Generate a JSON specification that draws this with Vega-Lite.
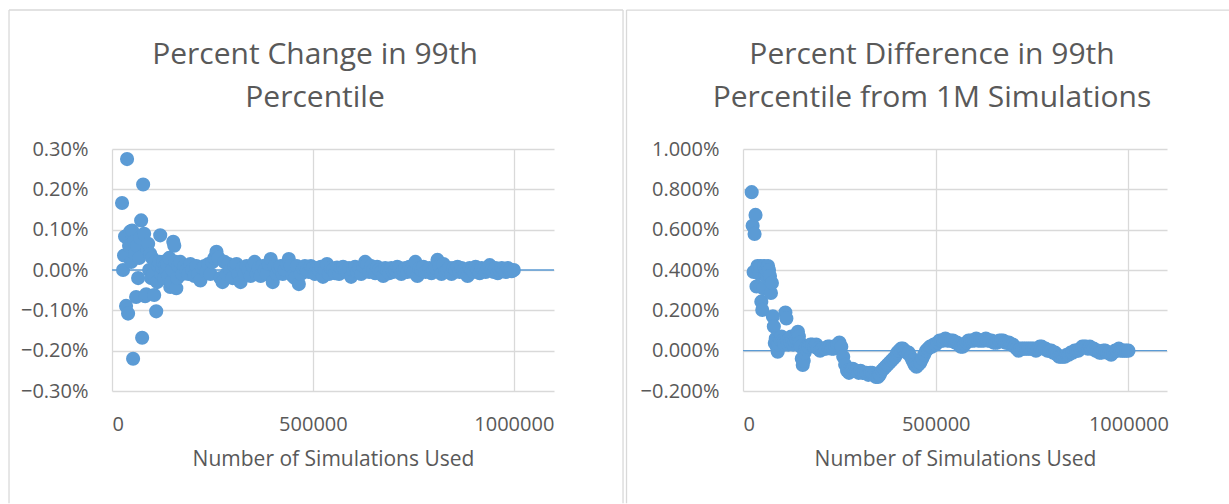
{
"$schema": "https://vega.github.io/schema/vega-lite/v6.json",
"padding": {"left": 8, "top": 9, "right": 0, "bottom": 0},
"background": "white",
"spacing": 1,
"config": {
 "view": {"stroke": null},
 "font": "Open Sans",
 "axis": {"labelFont": "Open Sans", "labelFontSize": 20, "labelColor": "#595959", "titleFont": "Open Sans", "titleFontSize": 21, "titleFontWeight": "normal", "titleColor": "#595959", "ticks": false, "domain": false, "gridColor": "#d9d9d9", "gridWidth": 1.3},
 "title": {"font": "Open Sans", "fontSize": 30, "fontWeight": "normal", "color": "#595959", "lineHeight": 43, "anchor": "middle"}
},
"datasets": {
 "change": [
  {"n":25000,"p":0.166},{"n":27500,"p":0.0},{"n":30000,"p":0.036},{"n":32500,"p":0.083},{"n":35000,"p":-0.089},{"n":37500,"p":0.275},{"n":40000,"p":-0.108},{"n":42500,"p":0.06},{"n":45000,"p":0.095},{"n":47500,"p":0.02},
  {"n":50000,"p":0.098},{"n":52500,"p":-0.22},{"n":55000,"p":0.07},{"n":57500,"p":0.04},{"n":60000,"p":-0.067},{"n":62500,"p":0.06},{"n":65000,"p":-0.02},{"n":67500,"p":0.03},{"n":70000,"p":0.08},{"n":72500,"p":0.123},
  {"n":75000,"p":-0.168},{"n":77500,"p":0.212},{"n":80000,"p":0.09},{"n":82500,"p":-0.065},{"n":85000,"p":-0.06},{"n":87500,"p":0.05},{"n":90000,"p":0.065},{"n":92500,"p":0.0},{"n":95000,"p":0.04},{"n":97500,"p":-0.02},
  {"n":100000,"p":0.03},{"n":102500,"p":-0.01},{"n":105000,"p":-0.062},{"n":107500,"p":0.02},{"n":110000,"p":-0.1025},{"n":112500,"p":-0.03},{"n":115000,"p":0.01},{"n":117500,"p":0.02},{"n":120000,"p":0.086},{"n":122500,"p":-0.01},
  {"n":125000,"p":0.005},{"n":127500,"p":0.02},{"n":130000,"p":-0.02},{"n":132500,"p":0.01},{"n":135000,"p":0.0},{"n":137500,"p":0.015},{"n":140000,"p":-0.015},{"n":142500,"p":0.03},{"n":145000,"p":-0.042},{"n":147500,"p":-0.03},
  {"n":150000,"p":0.0},{"n":152500,"p":0.07},{"n":155000,"p":0.06},{"n":157500,"p":0.02},{"n":160000,"p":-0.045},{"n":162500,"p":-0.02},{"n":165000,"p":0.01},
  {"n":170000,"p":0.02},{"n":175000,"p":-0.01},{"n":180000,"p":0.01},{"n":185000,"p":0.0},{"n":190000,"p":-0.01},{"n":195000,"p":0.015},{"n":200000,"p":0.0},{"n":205000,"p":-0.015},{"n":210000,"p":0.01},{"n":215000,"p":-0.01},
  {"n":220000,"p":-0.026},{"n":225000,"p":0.005},{"n":230000,"p":0.01},{"n":235000,"p":-0.005},{"n":240000,"p":0.015},{"n":245000,"p":-0.01},{"n":250000,"p":0.02},{"n":255000,"p":0.03},{"n":260000,"p":0.045},{"n":265000,"p":0.03},
  {"n":270000,"p":-0.02},{"n":275000,"p":-0.03},{"n":280000,"p":0.02},{"n":285000,"p":-0.01},{"n":290000,"p":0.015},{"n":295000,"p":0.0},{"n":300000,"p":-0.02},{"n":305000,"p":0.01},{"n":310000,"p":0.015},{"n":315000,"p":-0.01},
  {"n":320000,"p":-0.03},{"n":325000,"p":0.005},{"n":330000,"p":-0.01},{"n":335000,"p":0.01},{"n":340000,"p":0.0},{"n":345000,"p":-0.015},{"n":350000,"p":0.01},{"n":355000,"p":0.02},{"n":360000,"p":-0.01},{"n":365000,"p":0.005},
  {"n":370000,"p":-0.015},{"n":375000,"p":0.01},{"n":380000,"p":0.0},{"n":385000,"p":-0.01},{"n":390000,"p":0.015},{"n":395000,"p":0.027},{"n":400000,"p":-0.03},{"n":405000,"p":0.01},{"n":410000,"p":-0.01},{"n":415000,"p":0.005},
  {"n":420000,"p":0.01},{"n":425000,"p":-0.01},{"n":430000,"p":0.0},{"n":435000,"p":0.015},{"n":440000,"p":0.027},{"n":445000,"p":0.01},{"n":450000,"p":-0.015},{"n":455000,"p":-0.02},{"n":460000,"p":0.01},{"n":465000,"p":-0.035},
  {"n":470000,"p":-0.01},{"n":475000,"p":0.005},{"n":480000,"p":0.01},{"n":485000,"p":0.0},{"n":490000,"p":-0.005},{"n":495000,"p":0.01},{"n":500000,"p":0.005},{"n":505000,"p":-0.01},{"n":510000,"p":0.005},{"n":515000,"p":0.0},
  {"n":520000,"p":0.008},{"n":525000,"p":-0.017},{"n":530000,"p":0.0},{"n":535000,"p":0.015},{"n":540000,"p":-0.01},{"n":545000,"p":0.005},{"n":550000,"p":0.0},{"n":555000,"p":-0.008},{"n":560000,"p":0.006},{"n":565000,"p":-0.01},
  {"n":570000,"p":0.005},{"n":575000,"p":0.008},{"n":580000,"p":0.0},{"n":585000,"p":-0.005},{"n":590000,"p":0.005},{"n":595000,"p":-0.017},{"n":600000,"p":0.0},{"n":605000,"p":0.008},{"n":610000,"p":-0.005},{"n":615000,"p":0.005},
  {"n":620000,"p":-0.01},{"n":625000,"p":0.01},{"n":630000,"p":0.02},{"n":635000,"p":0.015},{"n":640000,"p":-0.005},{"n":645000,"p":0.01},{"n":650000,"p":0.0},{"n":655000,"p":-0.008},{"n":660000,"p":0.008},{"n":665000,"p":0.0},
  {"n":670000,"p":-0.005},{"n":675000,"p":-0.015},{"n":680000,"p":0.005},{"n":685000,"p":0.0},{"n":690000,"p":-0.008},{"n":695000,"p":0.005},{"n":700000,"p":-0.005},{"n":705000,"p":0.0},{"n":710000,"p":0.008},{"n":715000,"p":0.005},
  {"n":720000,"p":-0.01},{"n":725000,"p":0.0},{"n":730000,"p":0.005},{"n":735000,"p":-0.005},{"n":740000,"p":0.008},{"n":745000,"p":0.0},{"n":750000,"p":-0.005},{"n":755000,"p":0.02},{"n":760000,"p":-0.015},{"n":765000,"p":0.005},
  {"n":770000,"p":0.0},{"n":775000,"p":0.008},{"n":780000,"p":-0.005},{"n":785000,"p":0.0},{"n":790000,"p":0.005},{"n":795000,"p":-0.008},{"n":800000,"p":0.0},{"n":805000,"p":0.005},{"n":810000,"p":0.025},{"n":815000,"p":0.01},
  {"n":820000,"p":-0.01},{"n":825000,"p":0.015},{"n":830000,"p":-0.005},{"n":835000,"p":0.0},{"n":840000,"p":0.005},{"n":845000,"p":-0.01},{"n":850000,"p":0.005},{"n":855000,"p":0.0},{"n":860000,"p":0.008},{"n":865000,"p":-0.005},
  {"n":870000,"p":0.005},{"n":875000,"p":0.0},{"n":880000,"p":-0.008},{"n":885000,"p":-0.015},{"n":890000,"p":0.005},{"n":895000,"p":0.0},{"n":900000,"p":-0.005},{"n":905000,"p":0.008},{"n":910000,"p":0.0},{"n":915000,"p":-0.008},
  {"n":920000,"p":0.005},{"n":925000,"p":0.0},{"n":930000,"p":-0.005},{"n":935000,"p":0.005},{"n":940000,"p":0.012},{"n":945000,"p":0.0},{"n":950000,"p":-0.005},{"n":955000,"p":0.005},{"n":960000,"p":-0.008},{"n":965000,"p":0.0},
  {"n":970000,"p":0.005},{"n":975000,"p":0.0},{"n":980000,"p":-0.005},{"n":985000,"p":0.005},{"n":990000,"p":0.0},{"n":995000,"p":-0.003},{"n":1000000,"p":0.0}
 ],
 "diff": [
  {"n":22500,"p":0.786},{"n":25000,"p":0.619},{"n":27500,"p":0.39},{"n":30000,"p":0.579},{"n":32500,"p":0.673},{"n":35000,"p":0.318},{"n":37500,"p":0.42},{"n":40000,"p":0.4},{"n":42500,"p":0.38},{"n":45000,"p":0.42},
  {"n":47500,"p":0.243},{"n":50000,"p":0.202},{"n":52500,"p":0.31},{"n":55000,"p":0.42},{"n":57500,"p":0.38},{"n":60000,"p":0.4},{"n":62500,"p":0.36},{"n":65000,"p":0.42},{"n":67500,"p":0.4},{"n":70000,"p":0.37},
  {"n":72500,"p":0.286},{"n":75000,"p":0.336},{"n":77500,"p":0.17},{"n":80000,"p":0.12},{"n":82500,"p":0.038},{"n":85000,"p":0.06},{"n":87500,"p":0.02},{"n":90000,"p":-0.005},{"n":92500,"p":0.03},{"n":95000,"p":0.06},
  {"n":97500,"p":0.05},{"n":100000,"p":0.07},{"n":102500,"p":0.05},{"n":105000,"p":0.04},{"n":107500,"p":0.03},{"n":110000,"p":0.189},{"n":112500,"p":0.16},{"n":115000,"p":0.05},{"n":117500,"p":0.03},{"n":120000,"p":0.06},
  {"n":122500,"p":0.04},{"n":125000,"p":0.07},{"n":127500,"p":0.05},{"n":130000,"p":0.03},{"n":132500,"p":0.05},{"n":135000,"p":0.07},{"n":137500,"p":0.06},{"n":140000,"p":0.08},{"n":142500,"p":0.094},{"n":145000,"p":0.07},
  {"n":147500,"p":0.04},{"n":150000,"p":0.02},{"n":152500,"p":-0.04},{"n":155000,"p":-0.071},{"n":157500,"p":-0.05},{"n":160000,"p":-0.01},{"n":162500,"p":0.01},{"n":165000,"p":0.02},
  {"n":170000,"p":0.02},{"n":175000,"p":0.03},{"n":180000,"p":0.03},{"n":185000,"p":0.02},{"n":190000,"p":0.03},{"n":195000,"p":0.01},{"n":200000,"p":0.0},{"n":205000,"p":0.01},{"n":210000,"p":0.01},{"n":215000,"p":0.01},
  {"n":220000,"p":0.02},{"n":225000,"p":0.02},{"n":230000,"p":0.01},{"n":235000,"p":0.01},{"n":240000,"p":0.02},{"n":245000,"p":0.03},{"n":250000,"p":0.04},{"n":255000,"p":0.02},{"n":260000,"p":-0.03},{"n":265000,"p":-0.07},
  {"n":270000,"p":-0.1},{"n":275000,"p":-0.11},{"n":280000,"p":-0.1},{"n":285000,"p":-0.09},{"n":290000,"p":-0.1},{"n":295000,"p":-0.1},{"n":300000,"p":-0.11},{"n":305000,"p":-0.1},{"n":310000,"p":-0.11},{"n":315000,"p":-0.11},
  {"n":320000,"p":-0.11},{"n":325000,"p":-0.12},{"n":330000,"p":-0.11},{"n":335000,"p":-0.11},{"n":340000,"p":-0.12},{"n":345000,"p":-0.13},{"n":350000,"p":-0.13},{"n":355000,"p":-0.12},{"n":360000,"p":-0.1},{"n":365000,"p":-0.09},
  {"n":370000,"p":-0.08},{"n":375000,"p":-0.07},{"n":380000,"p":-0.06},{"n":385000,"p":-0.05},{"n":390000,"p":-0.04},{"n":395000,"p":-0.03},{"n":400000,"p":-0.01},{"n":405000,"p":0.0},{"n":410000,"p":0.01},{"n":415000,"p":0.01},
  {"n":420000,"p":0.0},{"n":425000,"p":-0.01},{"n":430000,"p":-0.01},{"n":435000,"p":-0.03},{"n":440000,"p":-0.05},{"n":445000,"p":-0.07},{"n":450000,"p":-0.08},{"n":455000,"p":-0.07},{"n":460000,"p":-0.06},{"n":465000,"p":-0.04},
  {"n":470000,"p":-0.02},{"n":475000,"p":0.0},{"n":480000,"p":0.01},{"n":485000,"p":0.02},{"n":490000,"p":0.02},{"n":495000,"p":0.03},{"n":500000,"p":0.03},{"n":505000,"p":0.04},{"n":510000,"p":0.05},{"n":515000,"p":0.05},
  {"n":520000,"p":0.05},{"n":525000,"p":0.06},{"n":530000,"p":0.05},{"n":535000,"p":0.05},{"n":540000,"p":0.05},{"n":545000,"p":0.05},{"n":550000,"p":0.04},{"n":555000,"p":0.04},{"n":560000,"p":0.03},{"n":565000,"p":0.02},
  {"n":570000,"p":0.02},{"n":575000,"p":0.03},{"n":580000,"p":0.04},{"n":585000,"p":0.05},{"n":590000,"p":0.05},{"n":595000,"p":0.05},{"n":600000,"p":0.05},{"n":605000,"p":0.06},{"n":610000,"p":0.05},{"n":615000,"p":0.05},
  {"n":620000,"p":0.05},{"n":625000,"p":0.05},{"n":630000,"p":0.06},{"n":635000,"p":0.05},{"n":640000,"p":0.05},{"n":645000,"p":0.05},{"n":650000,"p":0.04},{"n":655000,"p":0.04},{"n":660000,"p":0.04},{"n":665000,"p":0.05},
  {"n":670000,"p":0.05},{"n":675000,"p":0.05},{"n":680000,"p":0.04},{"n":685000,"p":0.04},{"n":690000,"p":0.04},{"n":695000,"p":0.03},{"n":700000,"p":0.03},{"n":705000,"p":0.02},{"n":710000,"p":0.01},{"n":715000,"p":0.0},
  {"n":720000,"p":0.01},{"n":725000,"p":0.01},{"n":730000,"p":0.01},{"n":735000,"p":0.01},{"n":740000,"p":0.01},{"n":745000,"p":0.01},{"n":750000,"p":0.01},{"n":755000,"p":0.01},{"n":760000,"p":0.0},{"n":765000,"p":0.01},
  {"n":770000,"p":0.02},{"n":775000,"p":0.02},{"n":780000,"p":0.01},{"n":785000,"p":0.01},{"n":790000,"p":0.0},{"n":795000,"p":0.0},{"n":800000,"p":0.0},{"n":805000,"p":-0.01},{"n":810000,"p":-0.01},{"n":815000,"p":-0.02},
  {"n":820000,"p":-0.03},{"n":825000,"p":-0.03},{"n":830000,"p":-0.03},{"n":835000,"p":-0.03},{"n":840000,"p":-0.02},{"n":845000,"p":-0.02},{"n":850000,"p":-0.01},{"n":855000,"p":-0.01},{"n":860000,"p":0.0},{"n":865000,"p":0.0},
  {"n":870000,"p":0.0},{"n":875000,"p":0.01},{"n":880000,"p":0.02},{"n":885000,"p":0.02},{"n":890000,"p":0.02},{"n":895000,"p":0.01},{"n":900000,"p":0.02},{"n":905000,"p":0.01},{"n":910000,"p":0.01},{"n":915000,"p":0.0},
  {"n":920000,"p":0.0},{"n":925000,"p":-0.01},{"n":930000,"p":-0.01},{"n":935000,"p":0.0},{"n":940000,"p":0.0},{"n":945000,"p":-0.01},{"n":950000,"p":-0.01},{"n":955000,"p":-0.02},{"n":960000,"p":-0.01},{"n":965000,"p":0.0},
  {"n":970000,"p":0.0},{"n":975000,"p":0.01},{"n":980000,"p":0.0},{"n":985000,"p":0.0},{"n":990000,"p":0.0},{"n":995000,"p":0.0},{"n":1000000,"p":0.0}
 ]
},
"hconcat": [
 {
  "width": 442, "height": 242,
  "title": {"text": ["Percent Change in 99th", "Percentile"], "dx": -18, "offset": -104},
  "layer": [
   {"data": {"values": [{}]}, "mark": {"type": "rule", "color": "#d9d9d9", "strokeWidth": 1.3},
    "encoding": {"x": {"datum": -256300, "type": "quantitative", "scale": {"domain": [0, 1100000], "nice": false}, "title": "Number of Simulations Used"}, "x2": {"datum": 1271800},
                 "y": {"datum": 0.6446, "type": "quantitative", "scale": {"domain": [-0.3, 0.3], "nice": false}, "title": null}}},
   {"data": {"values": [{}]}, "mark": {"type": "rule", "color": "#d9d9d9", "strokeWidth": 1.3},
    "encoding": {"x": {"datum": -256300, "type": "quantitative", "scale": {"domain": [0, 1100000], "nice": false}, "title": "Number of Simulations Used"},
                 "y": {"datum": 0.6446, "type": "quantitative", "scale": {"domain": [-0.3, 0.3], "nice": false}, "title": null}, "y2": {"datum": -0.578}}},
   {"data": {"values": [{}]}, "mark": {"type": "rule", "color": "#d9d9d9", "strokeWidth": 1.3},
    "encoding": {"x": {"datum": 1271800, "type": "quantitative", "scale": {"domain": [0, 1100000], "nice": false}, "title": "Number of Simulations Used"},
                 "y": {"datum": 0.6446, "type": "quantitative", "scale": {"domain": [-0.3, 0.3], "nice": false}, "title": null}, "y2": {"datum": -0.578}}},
   {"data": {"values": [{}]}, "mark": {"type": "rule", "color": "#5b9bd5", "strokeWidth": 1.3},
    "encoding": {"y": {"datum": 0, "type": "quantitative", "scale": {"domain": [-0.3, 0.3], "nice": false}, "title": null}}},
   {"data": {"name": "change"}, "mark": {"type": "circle", "size": 200, "opacity": 1, "color": "#5b9bd5"},
    "encoding": {
     "x": {"field": "n", "type": "quantitative", "scale": {"domain": [0, 1100000], "nice": false}, "title": "Number of Simulations Used",
           "axis": {"values": [0, 500000, 1000000], "labelExpr": "format(datum.value, 'd')", "labelPadding": 23, "titlePadding": 14, "grid": true}},
     "y": {"field": "p", "type": "quantitative", "scale": {"domain": [-0.3, 0.3], "nice": false}, "title": null,
           "axis": {"values": [-0.3, -0.2, -0.1, 0, 0.1, 0.2, 0.3], "labelExpr": "format(datum.value, '.2f') + '%'", "labelPadding": 24, "grid": true}}
    }}
  ]
 },
 {
  "width": 424, "height": 242,
  "title": {"text": ["Percent Difference in 99th", "Percentile from 1M Simulations"], "dx": -23, "offset": -104},
  "layer": [
   {"data": {"values": [{}]}, "mark": {"type": "rule", "color": "#d9d9d9", "strokeWidth": 1.3},
    "encoding": {"x": {"datum": -302200, "type": "quantitative", "scale": {"domain": [0, 1100000], "nice": false}, "title": "Number of Simulations Used"}, "x2": {"datum": 1262000},
                 "y": {"datum": 1.689, "type": "quantitative", "scale": {"domain": [-0.2, 1.0], "nice": false}, "title": null}}},
   {"data": {"values": [{}]}, "mark": {"type": "rule", "color": "#d9d9d9", "strokeWidth": 1.3},
    "encoding": {"x": {"datum": -302200, "type": "quantitative", "scale": {"domain": [0, 1100000], "nice": false}, "title": "Number of Simulations Used"},
                 "y": {"datum": 1.689, "type": "quantitative", "scale": {"domain": [-0.2, 1.0], "nice": false}, "title": null}, "y2": {"datum": -0.757}}},
   {"data": {"values": [{}]}, "mark": {"type": "rule", "color": "#5b9bd5", "strokeWidth": 1.3},
    "encoding": {"y": {"datum": 0, "type": "quantitative", "scale": {"domain": [-0.2, 1.0], "nice": false}, "title": null}}},
   {"data": {"name": "diff"}, "mark": {"type": "circle", "size": 200, "opacity": 1, "color": "#5b9bd5"},
    "encoding": {
     "x": {"field": "n", "type": "quantitative", "scale": {"domain": [0, 1100000], "nice": false}, "title": "Number of Simulations Used",
           "axis": {"values": [0, 500000, 1000000], "labelExpr": "format(datum.value, 'd')", "labelPadding": 23, "titlePadding": 14, "grid": true}},
     "y": {"field": "p", "type": "quantitative", "scale": {"domain": [-0.2, 1.0], "nice": false}, "title": null,
           "axis": {"values": [-0.2, 0, 0.2, 0.4, 0.6, 0.8, 1.0], "labelExpr": "format(datum.value, '.3f') + '%'", "labelPadding": 24, "grid": true}}
    }}
  ]
 }
]
}
